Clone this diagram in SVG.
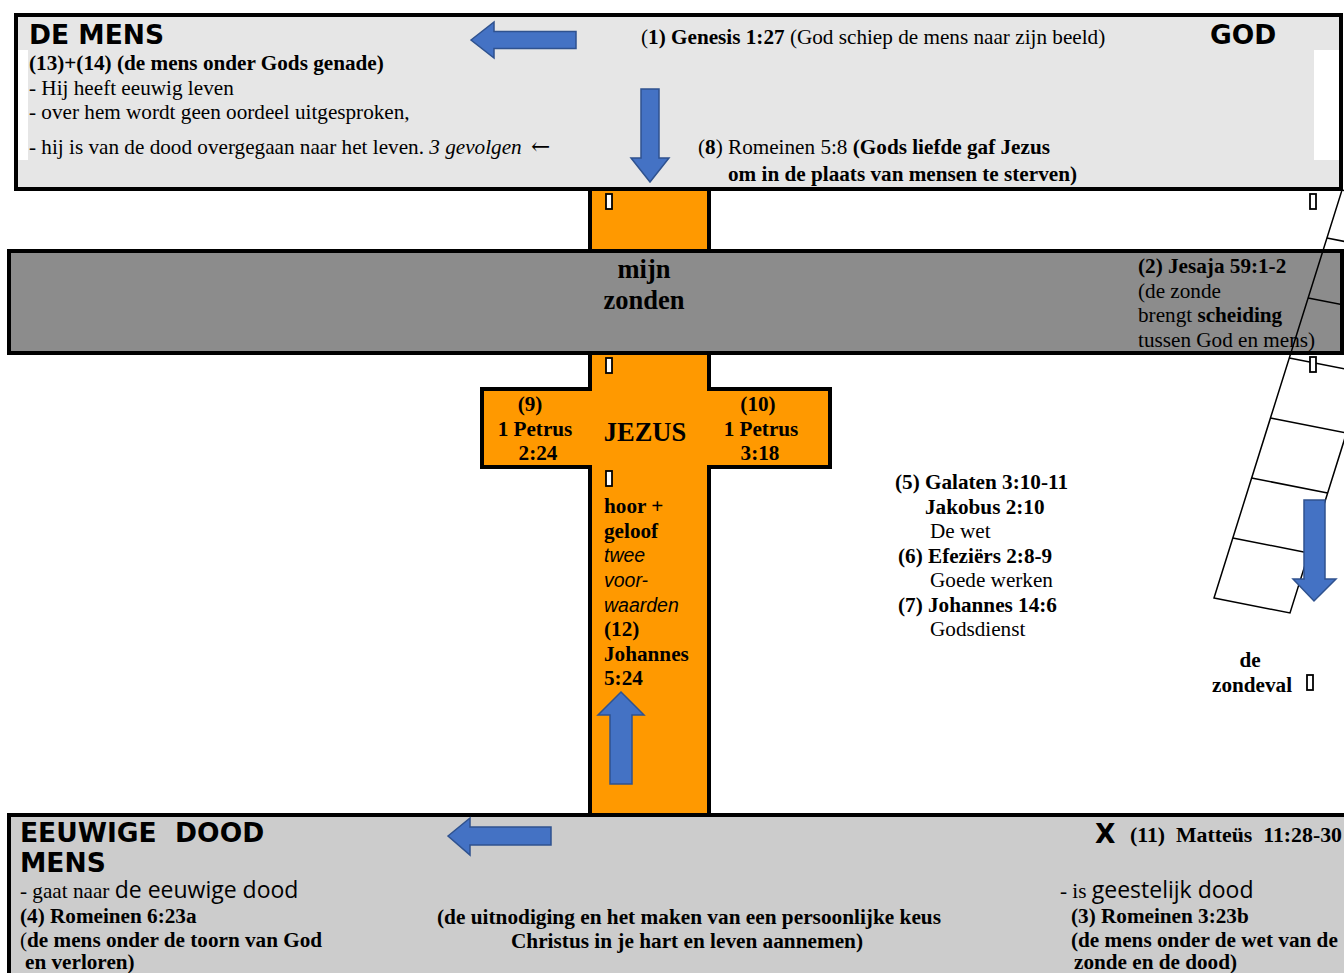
<svg xmlns="http://www.w3.org/2000/svg" width="1344" height="973" viewBox="0 0 1344 973">
<style>
.s{font-family:"Liberation Serif","Times New Roman",serif;font-size:21.2px;fill:#000}
.b{font-weight:bold}
.i{font-style:italic}
.h{font-family:"DejaVu Sans",Verdana,sans-serif;font-weight:bold;font-size:26.5px;fill:#000}
.o{font-family:"Open Sans","Noto Sans",sans-serif;font-size:23px}
.big{font-size:26.5px}
.ar{font-family:"DejaVu Serif",serif;font-size:23px}
.box{stroke:#000;stroke-width:4}
.arrow{fill:#4472c4;stroke:#2f528f;stroke-width:1.5}
.tofu{fill:#fff;stroke:#000;stroke-width:1.8}
.lad{fill:none;stroke:#000;stroke-width:1.5}
</style>
<rect width="1344" height="973" fill="#fff"/>

<g id="cross">
<polygon class="box" fill="#ff9900" points="590,189 709,189 709,389 830,389 830,467 709,467 709,815 590,815 590,467 482,467 482,389 590,389"/>
<rect class="tofu" x="606" y="194" width="6" height="15"/>
<rect class="tofu" x="606" y="358" width="6" height="15"/>
<rect class="tofu" x="606" y="471" width="6" height="15"/>
<text class="s b" text-anchor="middle" x="530" y="411">(9)</text>
<text class="s b" text-anchor="middle" x="535" y="436">1 Petrus</text>
<text class="s b" text-anchor="middle" x="538" y="460">2:24</text>
<text class="s b" text-anchor="middle" x="758" y="411">(10)</text>
<text class="s b" text-anchor="middle" x="761" y="436">1 Petrus</text>
<text class="s b" text-anchor="middle" x="760" y="460">3:18</text>
<text class="s b big" text-anchor="middle" x="645" y="441">JEZUS</text>
<text class="s b" x="604" y="513">hoor +</text>
<text class="s b" x="604" y="538">geloof</text>
<text x="604" y="562" font-family="Liberation Sans, Arial, sans-serif" font-style="italic" font-size="19.5">twee</text>
<text x="604" y="587" font-family="Liberation Sans, Arial, sans-serif" font-style="italic" font-size="19.5">voor-</text>
<text x="604" y="612" font-family="Liberation Sans, Arial, sans-serif" font-style="italic" font-size="19.5">waarden</text>
<text class="s b" x="604" y="636">(12)</text>
<text class="s b" x="604" y="661">Johannes</text>
<text class="s b" x="604" y="685">5:24</text>
</g>

<g id="top-box">
<rect class="box" x="16" y="15" width="1325" height="174" fill="#e6e6e6"/>
<rect x="18" y="50" width="10" height="110" fill="#fff"/>
<rect x="1314" y="50" width="25" height="110" fill="#fff"/>
<text class="h" x="29" y="44">DE MENS</text>
<text class="h" x="1210" y="44">GOD</text>
<text class="s b" x="29" y="70">(13)+(14) (de mens onder Gods genade)</text>
<text class="s" x="29" y="95">- Hij heeft eeuwig leven</text>
<text class="s" x="29" y="119">- over hem wordt geen oordeel uitgesproken,</text>
<text class="s" x="29" y="154">- hij is van de dood overgegaan naar het leven. <tspan class="i">3 gevolgen</tspan> <tspan class="ar" dx="4">←</tspan></text>
<text class="s" x="641" y="44">(<tspan class="b">1) Genesis 1:27</tspan> (God schiep de mens naar zijn beeld)</text>
<text class="s" x="698" y="154">(<tspan class="b">8</tspan>) Romeinen 5:8 <tspan class="b">(Gods liefde gaf Jezus</tspan></text>
<text class="s b" x="728" y="181">om in de plaats van mensen te sterven)</text>
</g>

<g id="sin-bar">
<rect class="box" x="9" y="251" width="1333" height="102" fill="#8c8c8c"/>
<text class="s b big" text-anchor="middle" x="644" y="278">mijn</text>
<text class="s b big" text-anchor="middle" x="644" y="309">zonden</text>
<text class="s b" x="1138" y="273">(2) Jesaja 59:1-2</text>
<text class="s" x="1138" y="298">(de zonde</text>
<text class="s" x="1138" y="322">brengt <tspan class="b">scheiding</tspan></text>
<text class="s" x="1138" y="347">tussen God en mens)</text>
</g>

<g id="ladder">
<polygon class="lad" points="1214,598 1290,613 1418,205 1342,190"/>
<line class="lad" x1="1232.8" y1="538" x2="1308.8" y2="553"/>
<line class="lad" x1="1251.6" y1="478" x2="1327.6" y2="493"/>
<line class="lad" x1="1270.5" y1="418" x2="1346.5" y2="433"/>
<line class="lad" x1="1289.3" y1="358" x2="1365.3" y2="373"/>
<line class="lad" x1="1308.1" y1="298" x2="1384.1" y2="313"/>
<line class="lad" x1="1326.9" y1="238" x2="1402.9" y2="253"/>
<rect class="tofu" x="1310" y="194" width="6" height="15"/>
<rect class="tofu" x="1310" y="357" width="6" height="15"/>
</g>

<g id="works">
<text class="s b" x="895" y="489">(5) Galaten 3:10-11</text>
<text class="s b" x="925" y="514">Jakobus 2:10</text>
<text class="s" x="930" y="538">De wet</text>
<text class="s b" x="898" y="563">(6) Efeziërs 2:8-9</text>
<text class="s" x="930" y="587">Goede werken</text>
<text class="s b" x="898" y="612">(7) Johannes 14:6</text>
<text class="s" x="930" y="636">Godsdienst</text>
</g>

<g id="fall">
<text class="s b" text-anchor="middle" x="1250" y="667">de</text>
<text class="s b" x="1212" y="692">zondeval</text>
<rect class="tofu" x="1307" y="675" width="6" height="15"/>
</g>

<g id="bottom-box">
<rect class="box" x="9" y="815" width="1345" height="200" fill="#cccccc"/>
<text class="h" x="20" y="842" xml:space="preserve">EEUWIGE  DOOD</text>
<text class="h" x="20" y="872">MENS</text>
<text class="s" x="20" y="898">- gaat naar <tspan class="o">de eeuwige dood</tspan></text>
<text class="s b" x="20" y="923">(4) Romeinen 6:23a</text>
<text class="s" x="20" y="946.5">(<tspan class="b">de mens onder de toorn van God</tspan></text>
<text class="s b" x="25" y="969">en verloren)</text>
<text class="s b" x="437" y="924" textLength="504" lengthAdjust="spacingAndGlyphs">(de uitnodiging en het maken van een persoonlijke keus</text>
<text class="s b" x="511" y="948" textLength="352" lengthAdjust="spacingAndGlyphs">Christus in je hart en leven aannemen)</text>
<text class="h" x="1095" y="843">X</text>
<text class="s b" x="1130" y="842" xml:space="preserve" textLength="212" lengthAdjust="spacingAndGlyphs">(11)  Matteüs  11:28-30</text>
<text class="s" x="1060" y="898">- is <tspan class="o">geestelijk dood</tspan></text>
<text class="s b" x="1071" y="923">(3) Romeinen 3:23b</text>
<text class="s b" x="1071" y="946.5">(de mens onder de wet van de</text>
<text class="s b" x="1074" y="969">zonde en de dood)</text>
</g>

<g id="connectors">
<polygon class="arrow" points="471,40 494,22 494,31.5 576,31.5 576,48.5 494,48.5 494,58"/>
<polygon class="arrow" points="641,89 659,89 659,158 669,158 650,182 631,158 641,158"/>
<polygon class="arrow" points="621,692 644,715 632,715 632,784 610,784 610,715 598,715"/>
<polygon class="arrow" points="1304,500 1325,500 1325,579 1336,579 1314,601 1293,579 1304,579"/>
<polygon class="arrow" points="448,836 470,818 470,827 551,827 551,845 470,845 470,855"/>
</g>
</svg>
